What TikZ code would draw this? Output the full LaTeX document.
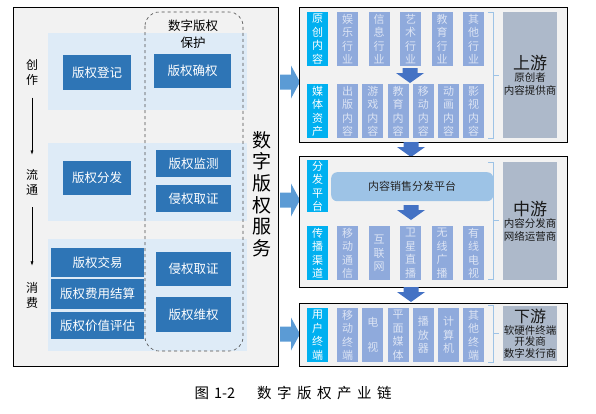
\documentclass[tikz,border=0pt]{standalone}
\usepackage{fontspec}
\setmainfont{Noto Sans CJK SC}
\usetikzlibrary{arrows.meta}

\definecolor{panelgray}{HTML}{F2F2F2}
\definecolor{bandblue}{HTML}{DEEBF7}
\definecolor{darkblue}{HTML}{2E75B6}
\definecolor{cyanblue}{HTML}{00B0F0}
\definecolor{paleblue}{HTML}{8FAADC}
\definecolor{paletext}{HTML}{DCE4F4}
\definecolor{platblue}{HTML}{9DC3E6}
\definecolor{slate}{HTML}{ADB9CA}
\definecolor{arrowblue}{HTML}{5B9BD5}
\definecolor{downblue}{HTML}{4472C4}
\definecolor{bracecol}{HTML}{9DC3E6}

\newcommand{\capgap}{\hspace{5.5pt}}

\tikzset{
  panel/.style={fill=panelgray, draw=black, line width=1.2pt, anchor=north west, inner sep=0pt},
  darkbox/.style={fill=darkblue, text=white, anchor=north west, inner sep=0pt, font=\fontsize{12.5}{14}\selectfont},
  smallbox/.style={anchor=north west, inner sep=0pt, minimum width=21pt, minimum height=54pt, align=center, font=\fontsize{11}{13.5}\selectfont},
  cyanbox/.style={smallbox, fill=cyanblue, text=white},
  palebox/.style={smallbox, fill=paleblue, text=paletext},
  slatebox/.style={fill=slate, anchor=north west, inner sep=0pt, minimum width=54pt, align=center, text=black!90, font=\fontsize{10.5}{12.5}\selectfont},
  stagelabel/.style={align=center, font=\fontsize{12}{15}\selectfont},
  blockright/.pic={\fill[arrowblue] (0,-7.5) -- (11,-7.5) -- (11,-16.5) -- (20,0) -- (11,16.5) -- (11,7.5) -- (0,7.5) -- cycle;},
  blockdown/.pic={\fill[downblue] (-7.5,0) -- (7.5,0) -- (7.5,5) -- (14,5) -- (0,15) -- (-14,5) -- (-7.5,5) -- cycle;}
}

\begin{document}
\begin{tikzpicture}[x=1pt,y=-1pt]
    \useasboundingbox (0,0) rectangle (596,413);

    % left panel
    \node[panel, line width=0.8pt, minimum width=265pt, minimum height=359pt] (service) at (13,7) {};
    \fill[bandblue] (48,33) rectangle (247,110);
    \fill[bandblue] (48,143) rectangle (247,221);
    \fill[bandblue] (48,239) rectangle (247,351);
    \draw[dashed, rounded corners=14pt, gray!60!black, line width=0.6pt] (145,12) rectangle (243,351);
    \node[font=\fontsize{12.5}{17}\selectfont, align=center] (protect) at (193,34) {数字版权\\保护};

    % copyright boxes
    \node[darkbox, minimum width=68pt, minimum height=35pt] (register) at (63,55) {版权登记};
    \node[darkbox, minimum width=77pt, minimum height=34pt] (confirm) at (154,54) {版权确权};
    \node[darkbox, minimum width=68pt, minimum height=34pt] (distribute) at (63,161) {版权分发};
    \node[darkbox, minimum width=75pt, minimum height=27pt] (monitor) at (156,150) {版权监测};
    \node[darkbox, minimum width=75pt, minimum height=27pt] (evidence) at (156,185) {侵权取证};
    \node[darkbox, minimum width=93pt, minimum height=29pt] (trade) at (51,248) {版权交易};
    \node[darkbox, minimum width=93pt, minimum height=30pt] (settle) at (51,279) {版权费用结算};
    \node[darkbox, minimum width=93pt, minimum height=27pt] (assess) at (51,312) {版权价值评估};
    \node[darkbox, minimum width=75pt, minimum height=34pt] (evidence2) at (156,252) {侵权取证};
    \node[darkbox, minimum width=75pt, minimum height=35pt] (defend) at (156,297) {版权维权};

    % stages
    \node[stagelabel] (create) at (32,72) {创\\作};
    \node[stagelabel] (circulate) at (32,182) {流\\通};
    \node[stagelabel] (consume) at (32,295) {消\\费};
    \draw[-{Latex[length=4pt,width=3pt]}, shorten <=9pt, shorten >=11pt] (create) -- (circulate);
    \draw[-{Latex[length=4pt,width=3pt]}, shorten <=9pt, shorten >=13pt] (circulate) -- (consume);

    \node[font=\fontsize{19}{21.6}\selectfont, align=center] (servicetext) at (262,194) {数\\字\\版\\权\\服\\务};

    % arrows to the right
    \pic at (280,82) {blockright};
    \pic at (280,200) {blockright};
    \pic at (280,334) {blockright};

    % upstream
    \node[panel, minimum width=268pt, minimum height=135pt] (uppanel) at (299,7) {};
    \node[cyanbox] (original) at (307,12) {原\\创\\内\\容};
    \foreach \txt [count=\i] in {娱\\乐\\行\\业, 信\\息\\行\\业, 艺\\术\\行\\业, 教\\育\\行\\业, 其\\他\\行\\业}
        \node[palebox] (industry\i) at ({305.5+31.5*\i},12) {\txt};
    \pic at (410,68) {blockdown};
    \node[cyanbox] (media) at (307,84) {媒\\体\\资\\产};
    \foreach \txt [count=\i] in {出\\版\\内\\容, 游\\戏\\内\\容, 教\\育\\内\\容, 移\\动\\内\\容, 动\\画\\内\\容, 影\\视\\内\\容}
        \node[palebox] (content\i) at ({311.8+25.2*\i},84) {\txt};
    \draw[bracecol, line width=0.8pt] (488,12) -- (493,12) -- (493,138) -- (488,138) (493,75) -- (499,75);
    \node[slatebox, minimum height=126pt] (upstream) at (503,12) {{\fontsize{17}{20}\selectfont 上游}\\原创者\\内容提供商};

    \pic at (411,142) {blockdown};

    % midstream
    \node[panel, minimum width=268pt, minimum height=131pt] (midpanel) at (299,156) {};
    \node[cyanbox, minimum height=52pt] (platform) at (307,160) {分\\发\\平\\台};
    \draw[bracecol, line width=0.8pt] (488,162) -- (493,162) -- (493,279) -- (488,279) (493,220) -- (499,220);
    \node[fill=platblue, rounded corners=6pt, anchor=north west, inner sep=0pt, minimum width=162pt, minimum height=29pt, text=black!85, font=\fontsize{11}{13}\selectfont] (salesplatform) at (331,172) {内容销售分发平台};
    \pic at (411,205) {blockdown};
    \node[cyanbox] (channel) at (307,226) {传\\播\\渠\\道};
    \foreach \txt [count=\i] in {移\\动\\通\\信, 互\\联\\网, 卫\\星\\直\\播, 无\\线\\广\\播, 有\\线\\电\\视}
        \node[palebox] (network\i) at ({305.5+31.5*\i},226) {\txt};
    \node[slatebox, minimum height=118pt] (midstream) at (503,162) {{\fontsize{17}{20}\selectfont 中游}\\内容分发商\\网络运营商};

    \pic at (411,287) {blockdown};

    % downstream
    \node[panel, minimum width=268pt, minimum height=63pt] (downpanel) at (299,303) {};
    \node[cyanbox] (user) at (307,308) {用\\户\\终\\端};
    \foreach \txt [count=\i] in {移\\动\\终\\端, 电\\[11.5pt]视, 平\\面\\媒\\体, 播\\放\\器, 计\\算\\机, 其\\他\\终\\端}
        \node[palebox] (terminal\i) at ({311.8+25.2*\i},308) {\txt};
    \draw[bracecol, line width=0.8pt] (488,305) -- (493,305) -- (493,362) -- (488,362) (493,333) -- (499,333);
    \node[slatebox, minimum height=55pt, font=\fontsize{10.5}{11.5}\selectfont] (downstream) at (503,306) {{\fontsize{16}{17}\selectfont 下游}\\软硬件终端\\开发商\\数字发行商};

    % caption
    \node[anchor=west, font=\fontsize{14.5}{16}\selectfont] (caption) at (191,393) {图\hspace{5pt}1-2\hspace{22pt}数\capgap 字\capgap 版\capgap 权\capgap 产\capgap 业\capgap 链};
\end{tikzpicture}
\end{document}
